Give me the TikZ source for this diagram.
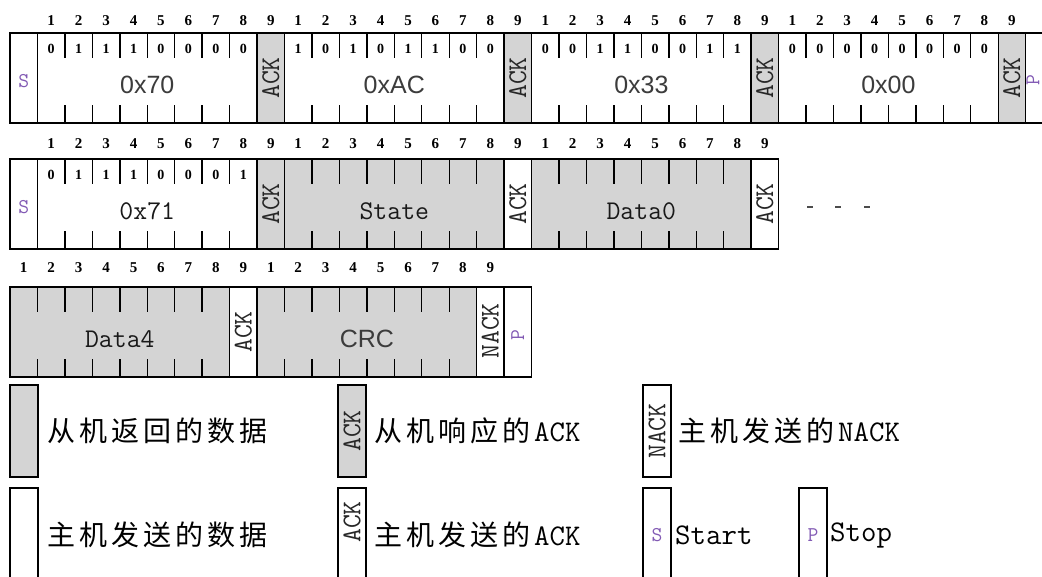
\documentclass[tikz,border=0pt]{standalone}
\usepackage{fontspec}
\setmainfont{Liberation Serif}
\newfontfamily\cjk{Noto Sans CJK SC}
\newfontfamily\lmtt{Latin Modern Mono}
\newfontfamily\serifb{Liberation Serif}
\newfontfamily\sansf{Liberation Sans}
\usetikzlibrary{calc}
\definecolor{cellgray}{RGB}{212,212,212}
\definecolor{spcol}{RGB}{130,90,180}
\definecolor{hexc}{RGB}{60,60,60}
\makeatletter
\newcommand\spacedcjk[1]{\@tfor\mych:=#1\do{\makebox[32pt][l]{\mych}}}
\makeatother
% name, x, top, fill
\newcommand\bytebox[4]{%
  \node[cell, fill=#4, minimum width=219.6pt] (#1) at (#2,#3) {};
  \foreach \k in {1,...,7}{%
    \draw[tick] ($(#1.north west)+(\k*27.45,0)$) -- ++(0,25);
    \draw[tick] ($(#1.south west)+(\k*27.45,0)$) -- ++(0,-18);
  }%
}
\newcommand\bitvals[2]{%
  \foreach \b [count=\k] in {#2}{%
    \node[bit] (#1-b\k) at ($(#1.north west)+(\k*27.45-13.725,16)$) {\b};
  }%
}
\newcommand\numrow[3]{%
  \foreach \k in {1,...,9}{%
    \node[num] (#1-\k) at ({#2+(\k-0.5)*27.45},#3) {\k};
  }%
}
\newcommand\smallcell[4]{% name, x, top, fill
  \node[cell, fill=#4, minimum width=27.45pt] (#1) at (#2,#3) {};
}
\newcommand\legtt{\lmtt\fontsize{30}{30}\selectfont}
\begin{document}
\begin{tikzpicture}[x=1pt,y=-1pt,
  cell/.style={draw=black, line width=1.4pt, minimum height=90pt, inner sep=0pt, outer sep=0pt, anchor=north west},
  legbox/.style={draw=black, line width=1.4pt, minimum height=92pt, minimum width=28pt, inner sep=0pt, outer sep=0pt, anchor=north west},
  tick/.style={line width=1.4pt},
  num/.style={font={\serifb\bfseries\fontsize{15}{15}\selectfont}, inner sep=0pt},
  bit/.style={font={\serifb\bfseries\fontsize{14}{14}\selectfont}, inner sep=0pt},
  hexlab/.style={font={\sansf\fontsize{25}{25}\selectfont}, text=hexc, inner sep=0pt},
  monolab/.style={font={\lmtt\fontsize{27}{27}\selectfont}, text=black!90, inner sep=0pt},
  acklab/.style={font={\lmtt\fontsize{27}{27}\selectfont}, text=black!85, rotate=90, inner sep=0pt},
  splab/.style={font={\lmtt\fontsize{21}{21}\selectfont}, text=spcol, inner sep=0pt},
  cjklab/.style={font={\cjk\fontsize{28}{28}\selectfont}, anchor=west, inner sep=0pt},
  latlab/.style={font=\legtt},
  dashmark/.style={line width=1.5pt, draw=black!70}
]
\useasboundingbox (0,0) rectangle (1042,577);
\fill[white] (0,0) rectangle (1042,577);

% ---------- Row 1 ----------
\smallcell{s1}{10}{33}{white}
\node[splab] (s1t) at ($(s1.center)+(0,3)$) {S};
\bytebox{a1}{37.45}{33}{white}
\bitvals{a1}{0,1,1,1,0,0,0,0}
\node[hexlab] (a1t) at ($(a1.center)+(0,7)$) {0x70};
\smallcell{k1}{257.05}{33}{cellgray}
\node[acklab] (k1t) at (k1.center) {ACK};
\bytebox{a2}{284.5}{33}{white}
\bitvals{a2}{1,0,1,0,1,1,0,0}
\node[hexlab] (a2t) at ($(a2.center)+(0,7)$) {0xAC};
\smallcell{k2}{504.1}{33}{cellgray}
\node[acklab] (k2t) at (k2.center) {ACK};
\bytebox{a3}{531.55}{33}{white}
\bitvals{a3}{0,0,1,1,0,0,1,1}
\node[hexlab] (a3t) at ($(a3.center)+(0,7)$) {0x33};
\smallcell{k3}{751.15}{33}{cellgray}
\node[acklab] (k3t) at (k3.center) {ACK};
\bytebox{a4}{778.6}{33}{white}
\bitvals{a4}{0,0,0,0,0,0,0,0}
\node[hexlab] (a4t) at ($(a4.center)+(0,7)$) {0x00};
\smallcell{k4}{998.2}{33}{cellgray}
\node[acklab] (k4t) at (k4.center) {ACK};
\smallcell{p1}{1025.65}{33}{white}
\node[splab, rotate=90] (p1t) at (1033,80) {P};
\numrow{n1a}{37.45}{21}
\numrow{n1b}{284.5}{21}
\numrow{n1c}{531.55}{21}
\numrow{n1d}{778.6}{21}

% ---------- Row 2 ----------
\smallcell{s2}{10}{159}{white}
\node[splab] (s2t) at ($(s2.center)+(0,3)$) {S};
\bytebox{b1}{37.45}{159}{white}
\bitvals{b1}{0,1,1,1,0,0,0,1}
\node[monolab] (b1t) at ($(b1.center)+(0,7)$) {0x71};
\smallcell{m1}{257.05}{159}{cellgray}
\node[acklab] (m1t) at (m1.center) {ACK};
\bytebox{b2}{284.5}{159}{cellgray}
\node[monolab] (b2t) at ($(b2.center)+(0,7)$) {State};
\smallcell{m2}{504.1}{159}{white}
\node[acklab] (m2t) at (m2.center) {ACK};
\bytebox{b3}{531.55}{159}{cellgray}
\node[monolab] (b3t) at ($(b3.center)+(0,7)$) {Data0};
\smallcell{m3}{751.15}{159}{white}
\node[acklab] (m3t) at (m3.center) {ACK};
\draw[dashmark] (807,207) -- (813,207);
\draw[dashmark] (835,207) -- (841,207);
\draw[dashmark] (864,207) -- (870,207);
\numrow{n2a}{37.45}{144}
\numrow{n2b}{284.5}{144}
\numrow{n2c}{531.55}{144}

% ---------- Row 3 ----------
\bytebox{c1}{10}{287}{cellgray}
\node[monolab] (c1t) at ($(c1.center)+(0,7)$) {Data4};
\smallcell{q1}{229.6}{287}{white}
\node[acklab] (q1t) at (q1.center) {ACK};
\bytebox{c2}{257.05}{287}{cellgray}
\node[hexlab] (c2t) at ($(c2.center)+(0,7)$) {CRC};
\smallcell{q2}{476.65}{287}{white}
\node[acklab] (q2t) at ($(q2.center)+(0,-1)$) {NACK};
\smallcell{p3}{504.1}{287}{white}
\node[splab, rotate=90] (p3t) at ($(p3.center)+(0,3)$) {P};
\numrow{n3a}{10}{268}
\numrow{n3b}{257.05}{268}

% ---------- Legend ----------
\node[legbox, fill=cellgray] (L1) at (10,385) {};
\node[cjklab] (L1t) at (47,431) {\spacedcjk{从机返回的数据}};
\node[legbox, fill=cellgray] (L2) at (338,385) {};
\node[acklab] (L2t) at (L2.center) {ACK};
\node[cjklab] (L2x) at (374,431) {\spacedcjk{从机响应的}{\legtt ACK}};
\node[legbox, fill=white] (L3) at (643,385) {};
\node[acklab] (L3t) at (L3.center) {NACK};
\node[cjklab] (L3x) at (678,431) {\spacedcjk{主机发送的}{\legtt NACK}};

\node[legbox, fill=white] (L4) at (10,488) {};
\node[cjklab] (L4t) at (47,535) {\spacedcjk{主机发送的数据}};
\node[legbox, fill=white] (L5) at (338,488) {};
\node[acklab] (L5t) at ($(L5.center)+(0,-12)$) {ACK};
\node[cjklab] (L5x) at (374,535) {\spacedcjk{主机发送的}{\legtt ACK}};
\node[legbox, fill=white] (L6) at (643,488) {};
\node[splab] (L6t) at (657,535) {S};
\node[latlab, anchor=west, inner sep=0pt] (L6x) at (675,535) {Start};
\node[legbox, fill=white] (L7) at (799,488) {};
\node[splab] (L7t) at (813,535) {P};
\node[latlab, anchor=west, inner sep=0pt] (L7x) at (830,535) {Stop};
\end{tikzpicture}
\end{document}
